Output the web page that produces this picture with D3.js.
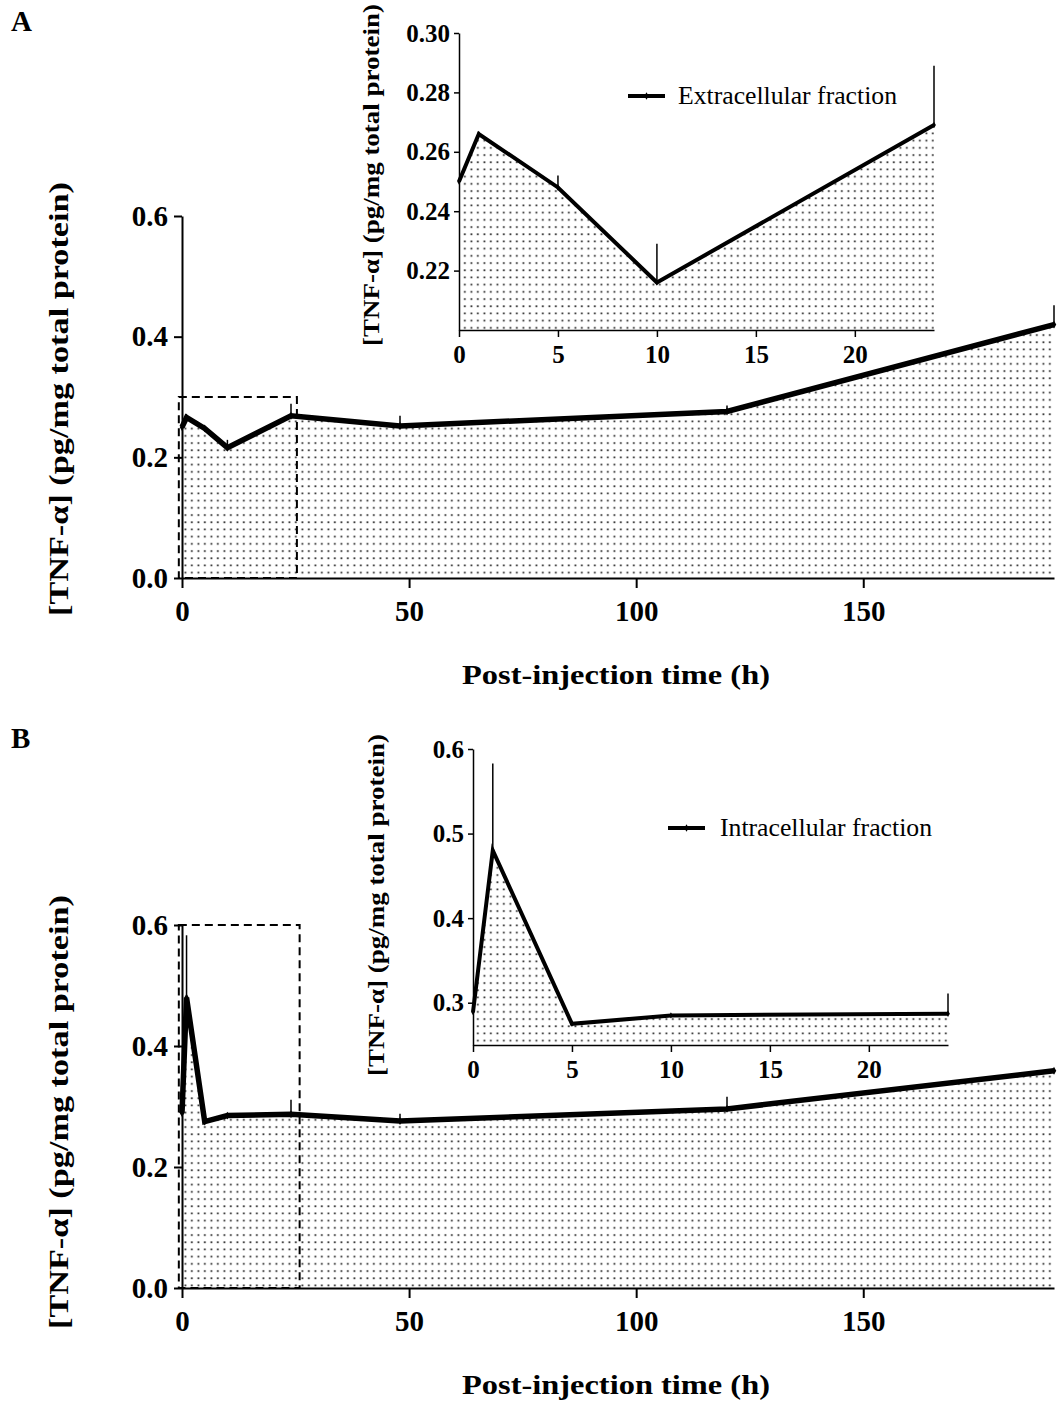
<!DOCTYPE html>
<html>
<head>
<meta charset="utf-8">
<script src="https://cdn.jsdelivr.net/npm/d3@7"></script>
<style>
  body { margin: 0; background: #fff; }
  svg text { font-family: "Liberation Serif", "Times New Roman", Times, serif; fill: #000; }
</style>
</head>
<body>
<svg id="chart" width="1058" height="1401"></svg>
<script>
// data: TNF-alpha after injection
const times = [0, 1, 5, 10, 24, 48, 120, 192];
const extraMean = [0.250, 0.266, 0.248, 0.216, 0.269, 0.252, 0.276, 0.420];
const extraErr = [0, 0, 0.004, 0.013, 0.020, 0.017, 0.010, 0.032];
const intraMean = [0.289, 0.480, 0.275, 0.285, 0.287, 0.276, 0.296, 0.359];
const intraErr = [0, 0.103, 0, 0, 0.024, 0.012, 0.020, 0];

const mainXTicks = [0, 50, 100, 150];
const mainYTicks = [0, 0.2, 0.4, 0.6];
const insetXTicks = [0, 5, 10, 15, 20];
const insetAYTicks = [0.22, 0.24, 0.26, 0.28, 0.30];
const insetBYTicks = [0.3, 0.4, 0.5, 0.6];
const panelLabels = ["A", "B"];
const legendLabels = ["Extracellular fraction", "Intracellular fraction"];
const yTitle = "[TNF-\u03b1] (pg/mg total protein)";
const xTitle = "Post-injection time (h)";

const svg = d3.select("#chart");

// dot fill
svg.append("defs").append("pattern")
    .attr("id", "dots")
    .attr("patternUnits", "userSpaceOnUse")
    .attr("width", 6.5)
    .attr("height", 7.2)
    .append("rect")
    .attr("x", 2.5)
    .attr("y", 3)
    .attr("width", 1.7)
    .attr("height", 1.7)
    .attr("fill", "#1a1a1a");

function drawPlot(g, o) {
    let pts = times.map((t, i) => ({ t: t, m: o.mean[i], e: o.err[i] }))
        .filter(d => d.t <= o.xDomain[1]);

    let x = d3.scaleLinear().domain(o.xDomain).range(o.xRange);
    let y = d3.scaleLinear().domain(o.yDomain).range(o.yRange);

    // filled area
    let area = d3.area()
        .x(d => x(d.t))
        .y0(y(o.yDomain[0]))
        .y1(d => y(d.m));
    g.append("path")
        .datum(pts)
        .attr("d", area)
        .attr("fill", "url(#dots)");

    // upper error bars only
    g.selectAll(".err")
        .data(pts.filter(d => d.e > 0))
        .enter().append("line")
        .attr("x1", d => x(d.t))
        .attr("x2", d => x(d.t))
        .attr("y1", d => y(d.m))
        .attr("y2", d => y(d.m + d.e))
        .attr("stroke", "#000")
        .attr("stroke-width", 1.5);

    // axes
    let fs = o.fontSize;
    let yAxis = g.append("g")
        .attr("transform", "translate(" + o.xRange[0] + ",0)")
        .call(d3.axisLeft(y).tickValues(o.yTicks).tickFormat(d3.format(o.yFormat))
            .tickSize(o.tickSize).tickSizeOuter(0).tickPadding(o.yPad));
    let xAxis = g.append("g")
        .attr("transform", "translate(0," + o.yRange[0] + ")")
        .call(d3.axisBottom(x).tickValues(o.xTicks).tickFormat(d3.format("d"))
            .tickSize(o.tickSize + 2).tickSizeOuter(0).tickPadding(o.xPad));
    [yAxis, xAxis].forEach(a => {
        a.selectAll("path, line").attr("stroke", "#000").attr("stroke-width", o.axisWidth);
        a.selectAll("text")
            .style("font-family", "'Liberation Serif', 'Times New Roman', Times, serif")
            .style("font-weight", "bold")
            .style("font-size", fs + "px")
            .attr("fill", "#000");
    });

    // mean line
    g.append("path")
        .datum(pts)
        .attr("d", d3.line().x(d => x(d.t)).y(d => y(d.m)))
        .attr("fill", "none")
        .attr("stroke", "#000")
        .attr("stroke-width", o.lineWidth)
        .attr("stroke-linejoin", "miter");

    g.selectAll(".mk")
        .data(pts)
        .enter().append("path")
        .attr("d", d3.symbol().type(d3.symbolDiamond).size(o.markSize))
        .attr("transform", d => "translate(" + x(d.t) + "," + y(d.m) + ")")
        .attr("fill", "#000");

    // y title
    g.append("text")
        .attr("transform", "translate(" + o.yTitlePos[0] + "," + o.yTitlePos[1] + ") rotate(-90)")
        .attr("text-anchor", "middle")
        .attr("textLength", o.yTitleLen)
        .attr("lengthAdjust", "spacingAndGlyphs")
        .style("font-weight", "bold")
        .style("font-size", o.yTitleSize + "px")
        .text(yTitle);

    return { x: x, y: y };
}

function drawPanel(idx, mean, err, lay) {
    let g = svg.append("g");

    g.append("text")
        .attr("x", 11)
        .attr("y", lay.labelY)
        .style("font-weight", "bold")
        .style("font-size", "29px")
        .text(panelLabels[idx]);

    let m = drawPlot(g, {
        mean: mean, err: err,
        xDomain: [0, 192], xRange: [182, 1054],
        yDomain: [0, 0.6], yRange: [lay.mainBottom, lay.mainTop],
        xTicks: mainXTicks, yTicks: mainYTicks, yFormat: ".1f",
        fontSize: 29, tickSize: 8, xPad: 12, yPad: 6, axisWidth: 2,
        lineWidth: 5.5, markSize: 18,
        yTitlePos: [68, lay.mainTitleY], yTitleLen: 434, yTitleSize: 28
    });

    // dashed box marking the zoomed region
    g.append("rect")
        .attr("x", m.x(-0.7))
        .attr("y", m.y(lay.box[1]))
        .attr("width", m.x(lay.box[2]) - m.x(-0.7))
        .attr("height", m.y(lay.box[0]) - m.y(lay.box[1]))
        .attr("fill", "none")
        .attr("stroke", "#000")
        .attr("stroke-width", 2)
        .attr("stroke-dasharray", "8,5");

    g.append("text")
        .attr("x", 616)
        .attr("y", lay.mainBottom + 106)
        .attr("text-anchor", "middle")
        .attr("textLength", 308)
        .attr("lengthAdjust", "spacingAndGlyphs")
        .style("font-weight", "bold")
        .style("font-size", "28px")
        .text(xTitle);

    // inset
    drawPlot(g, {
        mean: mean, err: err,
        xDomain: [0, 24], xRange: [lay.insetX0, lay.insetX0 + 475],
        yDomain: lay.insetYDomain, yRange: [lay.insetBottom, lay.insetTop],
        xTicks: insetXTicks, yTicks: lay.insetYTicks, yFormat: lay.insetYFormat,
        fontSize: 25, tickSize: 5, xPad: 8, yPad: 4, axisWidth: 1.5,
        lineWidth: 4, markSize: 12,
        yTitlePos: lay.insetTitlePos, yTitleLen: 342, yTitleSize: 23
    });

    // legend
    let lg = g.append("g").attr("transform", "translate(" + lay.legend[0] + "," + lay.legend[1] + ")");
    lg.append("line")
        .attr("x1", 0).attr("x2", 37)
        .attr("y1", 0).attr("y2", 0)
        .attr("stroke", "#000")
        .attr("stroke-width", 4);
    lg.append("path")
        .attr("d", d3.symbol().type(d3.symbolDiamond).size(16))
        .attr("transform", "translate(18.5,0)")
        .attr("fill", "#000");
    lg.append("text")
        .attr("x", lay.legend[2])
        .attr("y", 8)
        .attr("textLength", lay.legend[3])
        .attr("lengthAdjust", "spacingAndGlyphs")
        .style("font-size", "25px")
        .text(legendLabels[idx]);
}

drawPanel(0, extraMean, extraErr, {
    labelY: 31, mainTop: 216, mainBottom: 578, mainTitleY: 399,
    box: [0, 0.3, 25.3],
    insetX0: 459, insetTop: 33, insetBottom: 330,
    insetYDomain: [0.20, 0.30], insetYTicks: insetAYTicks, insetYFormat: ".2f",
    insetTitlePos: [379, 175],
    legend: [628, 96, 50, 219]
});
drawPanel(1, intraMean, intraErr, {
    labelY: 748, mainTop: 925, mainBottom: 1288, mainTitleY: 1112,
    box: [0, 0.6, 25.9],
    insetX0: 473, insetTop: 749, insetBottom: 1045,
    insetYDomain: [0.25, 0.60], insetYTicks: insetBYTicks, insetYFormat: ".1f",
    insetTitlePos: [384, 905],
    legend: [668, 828, 52, 212]
});
</script>
</body>
</html>
